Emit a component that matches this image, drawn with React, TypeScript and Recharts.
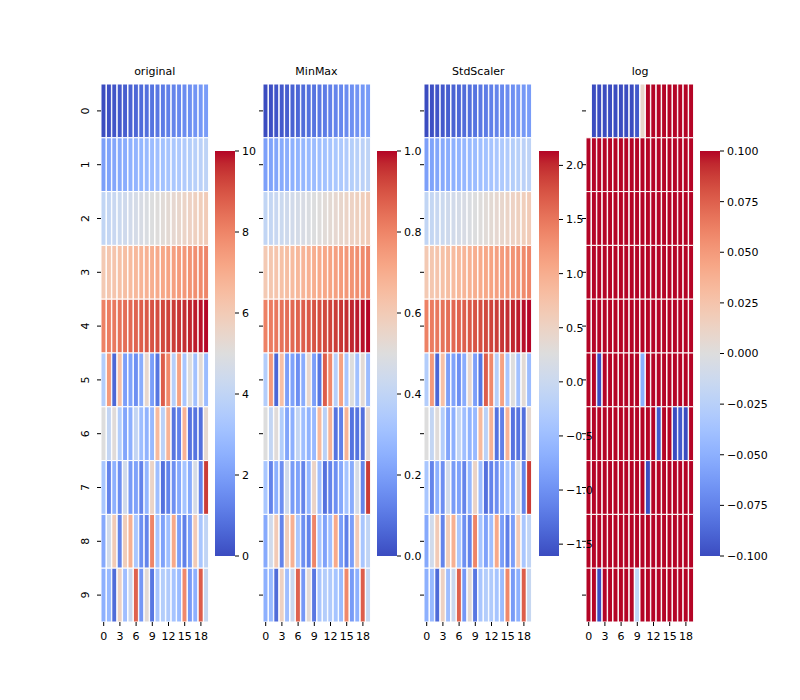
import React from 'react';
import { BarChart, Bar, Cell, XAxis, YAxis } from 'recharts';

const colLabels = [0, 1, 2, 3, 4, 5, 6, 7, 8, 9, 10, 11, 12, 13, 14, 15, 16, 17, 18, 19];
const rowLabels = [0, 1, 2, 3, 4, 5, 6, 7, 8, 9];

// cell values of the "original" panel, read row by row
const row0 = [0.0, 0.1, 0.2, 0.3, 0.4, 0.51, 0.61, 0.71, 0.81, 0.91, 1.01, 1.11, 1.21, 1.31, 1.41, 1.52, 1.62, 1.72, 1.82, 1.92];
const row1 = [2.02, 2.12, 2.22, 2.32, 2.42, 2.53, 2.63, 2.73, 2.83, 2.93, 3.03, 3.13, 3.23, 3.33, 3.43, 3.54, 3.64, 3.74, 3.84, 3.94];
const row2 = [4.04, 4.14, 4.24, 4.34, 4.44, 4.55, 4.65, 4.75, 4.85, 4.95, 5.05, 5.15, 5.25, 5.35, 5.45, 5.56, 5.66, 5.76, 5.86, 5.96];
const row3 = [6.06, 6.16, 6.26, 6.36, 6.46, 6.57, 6.67, 6.77, 6.87, 6.97, 7.07, 7.17, 7.27, 7.37, 7.47, 7.58, 7.68, 7.78, 7.88, 7.98];
const row4 = [8.08, 8.18, 8.28, 8.38, 8.48, 8.59, 8.69, 8.79, 8.89, 8.99, 9.09, 9.19, 9.29, 9.39, 9.49, 9.6, 9.7, 9.8, 9.9, 10.0];
const row5 = [3.6, 7.5, 0.6, 6.4, 2.0, 2.1, 1.6, 2.4, 5.4, 2.0, 0.95, 8.8, 7.9, 3.7, 7.3, 3.3, 5.0, 3.1, 5.2, 2.9];
const row6 = [5.0, 4.1, 5.1, 3.6, 2.2, 2.5, 4.1, 3.0, 2.6, 2.8, 6.6, 3.8, 6.8, 0.91, 1.2, 6.8, 0.9, 0.91, 0.8, 5.3];
const row7 = [3.3, 1.3, 2.5, 1.6, 4.5, 1.9, 2.1, 1.3, 2.7, 5.6, 3.0, 0.85, 1.3, 1.6, 2.3, 3.2, 2.4, 4.7, 1.3, 9.4];
const row8 = [2.3, 4.5, 6.0, 1.3, 5.9, 6.9, 3.3, 1.6, 1.3, 8.0, 3.2, 2.1, 3.0, 7.1, 2.0, 1.2, 2.0, 6.0, 3.3, 4.0];
const row9 = [2.5, 2.8, 0.7, 5.7, 3.0, 4.3, 8.7, 1.8, 5.2, 0.98, 3.3, 3.6, 3.5, 3.2, 2.9, 7.9, 1.9, 2.5, 8.8, 4.2];
const original = [row0, row1, row2, row3, row4, row5, row6, row7, row8, row9];

const panelTitles = ['original', 'MinMax', 'StdScaler', 'log'];
const rawTicks = [0, 2, 4, 6, 8, 10];
const minMaxTicks = [0, 0.2, 0.4, 0.6, 0.8, 1];
const stdTicks = [-1.5, -1, -0.5, 0, 0.5, 1, 1.5, 2];
const logTicks = [-0.1, -0.075, -0.05, -0.025, 0, 0.025, 0.05, 0.075, 0.1];
const logRange = [-0.1, 0.1];

// matplotlib coolwarm
const COOLWARM: number[][] = [
  [59, 76, 192], [68, 90, 204], [77, 104, 215], [87, 117, 225], [98, 130, 234], [108, 142, 241],
  [119, 154, 247], [130, 165, 251], [141, 176, 254], [152, 185, 255], [163, 194, 255], [174, 201, 253],
  [184, 208, 249], [194, 213, 244], [204, 217, 238], [213, 219, 230], [221, 221, 221], [229, 216, 209],
  [236, 211, 197], [241, 204, 184], [245, 196, 172], [247, 187, 159], [247, 177, 147], [247, 166, 134],
  [244, 154, 123], [241, 141, 111], [236, 127, 99], [229, 112, 88], [222, 96, 77], [213, 80, 66],
  [203, 62, 56], [192, 40, 47], [180, 4, 38],
];

const coolwarm = (t: number) => {
  const x = Math.min(1, Math.max(0, t)) * (COOLWARM.length - 1);
  const i = Math.min(COOLWARM.length - 2, Math.floor(x));
  const f = x - i;
  const a = COOLWARM[i];
  const b = COOLWARM[i + 1];
  const c = a.map((v, k) => Math.round(v + (b[k] - v) * f));
  return `rgb(${c[0]},${c[1]},${c[2]})`;
};

// the three transforms shown in the other panels
const flat = original.flat();
const dMin = Math.min(...flat);
const dMax = Math.max(...flat);
const mean = flat.reduce((s, v) => s + v, 0) / flat.length;
const sd = Math.sqrt(flat.reduce((s, v) => s + (v - mean) ** 2, 0) / flat.length);
const minMaxed = original.map(r => r.map(v => (v - dMin) / (dMax - dMin)));
const standardized = original.map(r => r.map(v => (v - mean) / sd));
const logged = original.map(r => r.map(v => (v > 0 ? Math.log(v) : null)));
const stdFlat = standardized.flat();

const minus = (s: string) => s.replace('-', '\u2212');

const panels = [
  { matrix: original, vmin: dMin, vmax: dMax, ticks: rawTicks, fmt: (v: number) => String(v) },
  { matrix: minMaxed, vmin: 0, vmax: 1, ticks: minMaxTicks, fmt: (v: number) => v.toFixed(1) },
  { matrix: standardized, vmin: Math.min(...stdFlat), vmax: Math.max(...stdFlat), ticks: stdTicks, fmt: (v: number) => minus(v.toFixed(1)) },
  { matrix: logged, vmin: logRange[0], vmax: logRange[1], ticks: logTicks, fmt: (v: number) => minus(v.toFixed(3)) },
];

const HEAT_LEFT = [100.7, 262.5, 424.3, 586.2];
const CB_LEFT = [215, 376.8, 538.6, 700.4];
const HEAT_TOP = 84.3;
const HEAT_W = 108;
const HEAT_H = 538;
const Y_AXIS_W = 30;
const X_AXIS_H = 30;
const CB_TOP = 151;
const CB_W = 20;
const CB_H = 405;
const CB_PAD = 8;
const FONT = '"DejaVu Sans", sans-serif';

const rowTicks = rowLabels.map(r => r + 0.5);

const RowTick = (props: any) => {
  const { x, y, payload } = props;
  const bx = x - 6;
  return (
    <text x={bx} y={y} transform={`rotate(-90 ${bx} ${y})`} textAnchor="middle" fontSize={11} fill="#000">
      {Math.floor(payload.value)}
    </text>
  );
};

const Heatmap = ({ matrix, vmin, vmax, showLabels }: any) => {
  const data = colLabels.map(c => {
    const d: Record<string, number> = { col: c };
    rowLabels.forEach(r => { d[`r${r}`] = 1; });
    return d;
  });
  return (
    <BarChart width={Y_AXIS_W + HEAT_W} height={HEAT_H + X_AXIS_H} data={data}
      margin={{ top: 0, right: 0, bottom: 0, left: 0 }} barCategoryGap={0} barGap={0}>
      <XAxis dataKey="col" interval={2} height={X_AXIS_H} tickSize={4} tickMargin={6}
        axisLine={false} tickLine={{ stroke: '#000' }} tick={{ fill: '#000', fontSize: 11 }} />
      <YAxis type="number" domain={[0, 10]} reversed ticks={rowTicks} width={Y_AXIS_W} tickSize={4}
        axisLine={false} tickLine={{ stroke: '#000' }}
        tick={showLabels ? <RowTick /> : () => <g />} />
      {rowLabels.map(r => (
        <Bar key={r} dataKey={`r${r}`} stackId="s" isAnimationActive={false}>
          {colLabels.map(j => {
            const v = matrix[r][j];
            return (
              <Cell key={j} fill={v == null ? 'none' : coolwarm((v - vmin) / (vmax - vmin))}
                stroke="#fff" strokeWidth={1} />
            );
          })}
        </Bar>
      ))}
    </BarChart>
  );
};

const Colorbar = ({ vmin, vmax, ticks, fmt }: any) => (
  <BarChart width={CB_W + 60} height={CB_H + 2 * CB_PAD} data={[{ name: 'cb', v: [vmin, vmax] }]}
    margin={{ top: CB_PAD, right: 0, bottom: CB_PAD, left: 0 }} barCategoryGap={0}>
    <XAxis dataKey="name" hide />
    <YAxis orientation="right" type="number" domain={[vmin, vmax]} ticks={ticks} tickFormatter={fmt}
      width={60} tickSize={4} tickMargin={3} axisLine={false} allowDataOverflow
      tickLine={{ stroke: '#000' }} tick={{ fill: '#000', fontSize: 11, textAnchor: 'start' }} />
    <Bar dataKey="v" fill="url(#coolwarm-grad)" isAnimationActive={false} />
  </BarChart>
);

export default function App() {
  return (
    <div style={{ position: 'absolute', left: 0, top: 0, width: 800, height: 700, background: '#fff', fontFamily: FONT }}>
      <svg width={0} height={0} style={{ position: 'absolute' }}>
        <defs>
          <linearGradient id="coolwarm-grad" x1="0" y1="1" x2="0" y2="0">
            {COOLWARM.map((c, i) => (
              <stop key={i} offset={i / (COOLWARM.length - 1)} stopColor={`rgb(${c[0]},${c[1]},${c[2]})`} />
            ))}
          </linearGradient>
        </defs>
      </svg>
      {panels.map((p, k) => (
        <React.Fragment key={`h${k}`}>
          <div style={{ position: 'absolute', left: HEAT_LEFT[k], top: 64, width: HEAT_W, height: 16,
            lineHeight: '16px', textAlign: 'center', fontSize: 11, color: '#000' }}>
            {panelTitles[k]}
          </div>
          <div style={{ position: 'absolute', left: HEAT_LEFT[k] - Y_AXIS_W, top: HEAT_TOP }}>
            <Heatmap matrix={p.matrix} vmin={p.vmin} vmax={p.vmax} showLabels={k === 0} />
          </div>
        </React.Fragment>
      ))}
      {panels.map((p, k) => (
        <div key={`c${k}`} style={{ position: 'absolute', left: CB_LEFT[k], top: CB_TOP - CB_PAD }}>
          <Colorbar vmin={p.vmin} vmax={p.vmax} ticks={p.ticks} fmt={p.fmt} />
        </div>
      ))}
    </div>
  );
}
